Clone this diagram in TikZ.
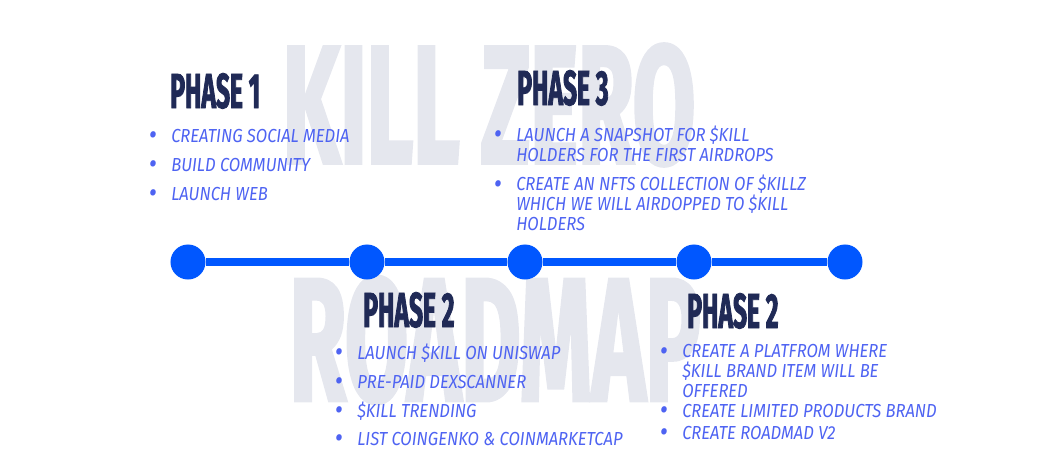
\documentclass[tikz,border=0pt]{standalone}
\usepackage{fontspec}
\setmainfont{Fira Sans}
\newfontfamily\headfont[FakeStretch=0.5, FakeBold=1.6]{Fira Sans}
\newfontfamily\itemfont[FakeStretch=0.88]{Fira Sans}
\usetikzlibrary{positioning}
\definecolor{tlblue}{RGB}{0,87,255}
\definecolor{itemblue}{RGB}{78,99,242}
\definecolor{headnavy}{RGB}{32,42,86}
\definecolor{markgray}{RGB}{229,231,238}
\newcommand{\bul}{\makebox[0pt][r]{\raisebox{-0.25ex}{\scalebox{1.5}{\textbullet}}\hspace{0.36cm}}}

\begin{document}
\begin{tikzpicture}[
    x=0.025cm, y=-0.025cm,
    dot/.style={circle, fill=tlblue, minimum size=0.875cm, inner sep=0pt},
    tline/.style={tlblue, line width=0.18cm},
    phase/.style={anchor=base west, inner sep=0pt, text=headnavy, font=\headfont\bfseries\fontsize{35}{35}\selectfont},
    item/.style={anchor=base west, inner sep=0pt, align=left, text=itemblue, font=\itemfont\itshape\fontsize{13.4}{13.9}\selectfont},
    watermark/.style={inner sep=0pt, text=markgray, font=\headfont\bfseries}
]

\useasboundingbox (0,0) rectangle (1055,474);

% ============ BACKGROUND TITLE ============
\node[watermark] (killzero) at (489,105) {\resizebox{10.3cm}{3cm}{KILL ZERO}};
\node[watermark] (roadmap) at (495,340) {\resizebox{10.25cm}{3.125cm}{ROADMAP}};

% ============ TIMELINE ============
\node[dot] (d1) at (188,262) {};
\node[dot] (d2) at (367,262) {};
\node[dot] (d3) at (525,262) {};
\node[dot] (d4) at (694,262) {};
\node[dot] (d5) at (845,262) {};

\draw[tline] (d1) -- (d2);
\draw[tline] (d2) -- (d3);
\draw[tline] (d3) -- (d4);
\draw[tline] (d4) -- (d5);

% ============ PHASE 1 ============
\node[phase] (ph1) at (170,108) {PHASE 1};
\node[item] (p1a) at (171,142) {\bul CREATING SOCIAL MEDIA};
\node[item] (p1b) at (171,171) {\bul BUILD COMMUNITY};
\node[item] (p1c) at (171,200) {\bul LAUNCH WEB};

% ============ PHASE 3 ============
% multi-line items sit on the baseline of their last line
\node[phase] (ph3) at (517,105) {PHASE 3};
\node[item] (p3a) at (516,161) {\bul LAUNCH A SNAPSHOT FOR \$KILL\\HOLDERS FOR THE FIRST AIRDROPS};
\node[item] (p3b) at (516,230) {\bul CREATE AN NFTS COLLECTION OF \$KILLZ\\WHICH WE WILL AIRDOPPED TO \$KILL\\HOLDERS};

% ============ PHASE 2 (LEFT) ============
\node[phase] (ph2a) at (363,327) {PHASE 2};
\node[item] (p2a) at (357,359) {\bul LAUNCH \$KILL ON UNISWAP};
\node[item] (p2b) at (357,388) {\bul PRE-PAID DEXSCANNER};
\node[item] (p2c) at (357,417) {\bul \$KILL TRENDING};
\node[item] (p2d) at (357,445) {\bul LIST COINGENKO \& COINMARKETCAP};

% ============ PHASE 2 (RIGHT) ============
\node[phase] (ph2b) at (687,328) {PHASE 2};
\node[item] (p4a) at (682,397) {\bul CREATE A PLATFROM WHERE\\\$KILL BRAND ITEM WILL BE\\OFFERED};
\node[item] (p4b) at (682,417) {\bul CREATE LIMITED PRODUCTS BRAND};
\node[item] (p4c) at (682,439) {\bul CREATE ROADMAD V2};

\end{tikzpicture}
\end{document}
